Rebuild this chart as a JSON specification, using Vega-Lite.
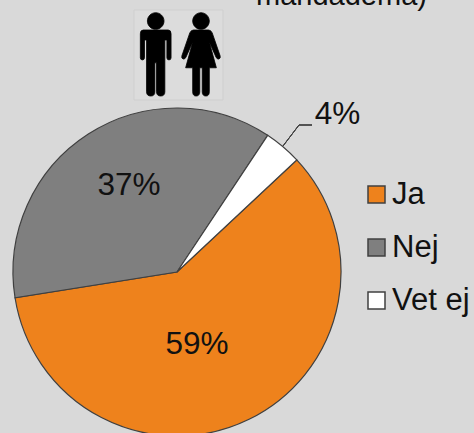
{"$schema":"https://vega.github.io/schema/vega-lite/v6.json","width":474,"height":433,"padding":0,"autosize":{"type":"none"},"background":"#d9d9d9","config":{"view":{"stroke":null},"text":{"font":"Liberation Sans","fontSize":31.5,"fill":"#111111"}},"datasets":{"pie":[{"svar":"Ja","andel":0.594},{"svar":"Nej","andel":0.368},{"svar":"Vet ej","andel":0.037}]},"data":{"name":"pie"},"layer":[{"mark":{"type":"arc","outerRadius":164,"stroke":"#404040","strokeWidth":1.2},"encoding":{"x":{"datum":177,"type":"quantitative","axis":null,"scale":{"domain":[0,474],"nice":false,"zero":false}},"y":{"datum":272,"type":"quantitative","axis":null,"scale":{"domain":[0,433],"nice":false,"zero":false,"reverse":true}},"theta":{"field":"andel","type":"quantitative","scale":{"range":[0.8186,7.1018]}},"order":{"field":"svar"},"color":{"field":"svar","type":"nominal","scale":{"domain":["Ja","Nej","Vet ej"],"range":["#ee821c","#7f7f7f","#ffffff"]},"legend":{"title":null,"orient":"none","legendX":361,"legendY":179,"symbolType":"square","symbolSize":289,"symbolStrokeColor":"#404040","symbolStrokeWidth":1.5,"labelFont":"Liberation Sans","labelFontSize":31,"labelColor":"#111111","labelOffset":0,"rowPadding":21}}}},{"transform":[{"filter":"datum.svar==='Ja'"}],"mark":{"type":"text"},"encoding":{"x":{"datum":197,"type":"quantitative","axis":null},"y":{"datum":345,"type":"quantitative","axis":null},"text":{"field":"andel","type":"quantitative","format":".0%"}}},{"transform":[{"filter":"datum.svar==='Nej'"}],"mark":{"type":"text"},"encoding":{"x":{"datum":129,"type":"quantitative","axis":null},"y":{"datum":186,"type":"quantitative","axis":null},"text":{"field":"andel","type":"quantitative","format":".0%"}}},{"transform":[{"filter":"datum.svar==='Vet ej'"}],"mark":{"type":"text"},"encoding":{"x":{"datum":337.5,"type":"quantitative","axis":null},"y":{"datum":115,"type":"quantitative","axis":null},"text":{"field":"andel","type":"quantitative","format":".0%"}}},{"mark":{"type":"rule","stroke":"#404040","strokeWidth":1},"encoding":{"x":{"datum":283,"type":"quantitative","axis":null},"y":{"datum":146,"type":"quantitative","axis":null},"x2":{"datum":299},"y2":{"datum":125}}},{"mark":{"type":"rule","stroke":"#404040","strokeWidth":1},"encoding":{"x":{"datum":299,"type":"quantitative","axis":null},"y":{"datum":125,"type":"quantitative","axis":null},"x2":{"datum":312}}},{"data":{"values":[{"rad":"mandadema)"}]},"mark":{"type":"text","baseline":"alphabetic","fontSize":29},"encoding":{"x":{"datum":341.5,"type":"quantitative","axis":null},"y":{"datum":5,"type":"quantitative","axis":null},"text":{"field":"rad"}}},{"data":{"values":[{"ikon":"bakgrund"}]},"mark":{"type":"rect","fill":"#dcdcdc","stroke":"#cfcfcf","strokeWidth":1},"encoding":{"x":{"datum":134,"type":"quantitative","axis":null},"x2":{"datum":223},"y":{"datum":10,"type":"quantitative","axis":null},"y2":{"datum":100}}},{"data":{"values":[{"ikon":"man"}]},"mark":{"type":"point","filled":true,"fill":"#000000","stroke":"#000000","strokeWidth":0.8,"opacity":1,"size":6889,"shape":"M -0.3 -0.59 H 0.3 Q 0.37 -0.59 0.37 -0.5 V 0.08 Q 0.37 0.13 0.32 0.13 Q 0.27 0.13 0.27 0.08 V -0.35 H 0.22 V 0.9 Q 0.22 1 0.12 1 Q 0.02 1 0.02 0.9 V 0.2 H -0.02 V 0.9 Q -0.02 1 -0.12 1 Q -0.22 1 -0.22 0.9 V -0.35 H -0.27 V 0.08 Q -0.27 0.13 -0.32 0.13 Q -0.37 0.13 -0.37 0.08 V -0.5 Q -0.37 -0.59 -0.3 -0.59 Z M -0.2 -0.807 A 0.2 0.2 0 1 1 0.2 -0.807 A 0.2 0.2 0 1 1 -0.2 -0.807 Z"},"encoding":{"x":{"datum":155.7,"type":"quantitative","axis":null},"y":{"datum":54.5,"type":"quantitative","axis":null}}},{"data":{"values":[{"ikon":"kvinna"}]},"mark":{"type":"point","filled":true,"fill":"#000000","stroke":"#000000","strokeWidth":0.8,"opacity":1,"size":6889,"shape":"M -0.18 -0.59 H 0.18 Q 0.24 -0.59 0.27 -0.52 L 0.46 0.03 Q 0.48 0.1 0.42 0.11 Q 0.38 0.11 0.36 0.06 L 0.2 -0.3 L 0.37 0.32 H 0.2 V 0.9 Q 0.2 1 0.12 1 Q 0.03 1 0.03 0.9 V 0.32 H -0.03 V 0.9 Q -0.03 1 -0.12 1 Q -0.2 1 -0.2 0.9 V 0.32 H -0.37 L -0.2 -0.3 L -0.36 0.06 Q -0.38 0.11 -0.42 0.11 Q -0.48 0.1 -0.46 0.03 L -0.27 -0.52 Q -0.24 -0.59 -0.18 -0.59 Z M -0.2 -0.807 A 0.2 0.2 0 1 1 0.2 -0.807 A 0.2 0.2 0 1 1 -0.2 -0.807 Z"},"encoding":{"x":{"datum":201,"type":"quantitative","axis":null},"y":{"datum":54.5,"type":"quantitative","axis":null}}}]}
